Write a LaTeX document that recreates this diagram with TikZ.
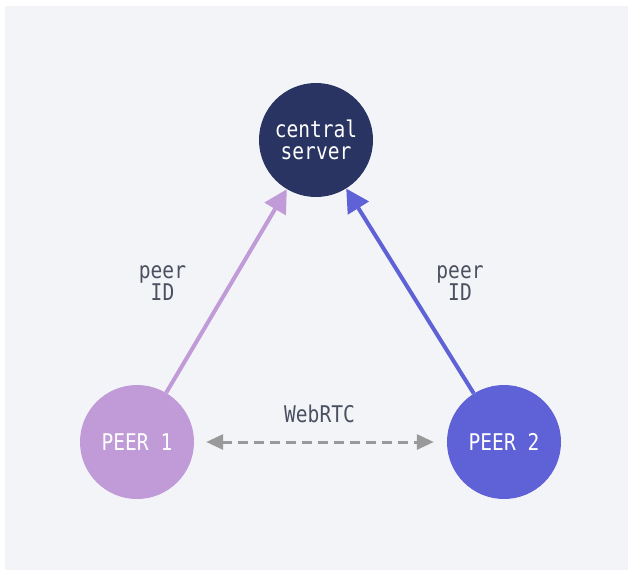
\documentclass[tikz,border=0pt]{standalone}
\usepackage{fontspec}
\newfontfamily\monof[FakeStretch=0.85]{DejaVu Sans Mono}
\usetikzlibrary{arrows.meta}
\definecolor{bgc}{HTML}{F3F4F8}
\definecolor{navy}{HTML}{2A3462}
\definecolor{lilac}{HTML}{C09BD8}
\definecolor{blurple}{HTML}{5F62D6}
\definecolor{dgray}{HTML}{999999}
\definecolor{txt}{HTML}{4B5060}
\tikzset{
  ball/.style={circle, minimum size=114pt, inner sep=0pt, text=white, align=center,
    font=\monof\fontsize{23}{22}\selectfont},
  lbl/.style={inner sep=0pt, text=txt, align=center, font=\monof\fontsize{23}{22}\selectfont},
  solidarr/.style={line width=4pt, -{Triangle[length=23pt,width=24pt]}},
  webarr/.style={line width=3pt, draw=dgray, dash pattern=on 10pt off 6pt,
    {Triangle[length=17pt,width=15pt]}-{Triangle[length=17pt,width=15pt]},
    shorten <=12pt, shorten >=13pt}
}
\begin{document}
\begin{tikzpicture}[x=1pt,y=-1pt]
\fill[white] (0,0) rectangle (629,571);
\useasboundingbox (0,0) rectangle (629,571);
\fill[bgc] (5,6) rectangle (628,570);
\node[ball, fill=navy] (server) at (316,140) {central\\server};
\node[ball, fill=lilac] (p1) at (137,442) {PEER 1};
\node[ball, fill=blurple] (p2) at (504,442) {PEER 2};
\draw[solidarr, draw=lilac] (p1) -- (server);
\draw[solidarr, draw=blurple] (p2) -- (server);
\draw[webarr] (p1) -- (p2);
\node[lbl] (l1) at (162.5,283) {peer\\ID};
\node[lbl] (l2) at (460,283) {peer\\ID};
\node[lbl] (web) at (319.5,414) {WebRTC};
\end{tikzpicture}
\end{document}
